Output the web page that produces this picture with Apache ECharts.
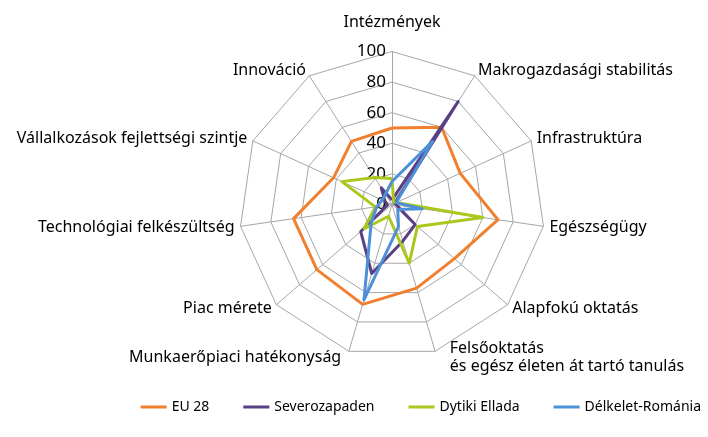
<!DOCTYPE html>
<html>
<head>
<meta charset="utf-8">
<script src="https://cdn.jsdelivr.net/npm/echarts@6/dist/echarts.min.js"></script>
<style>
html,body{margin:0;padding:0;background:#fff;}
#chart{width:708px;height:437px;}
</style>
</head>
<body>
<div id="chart"></div>
<script>
// Indicators, clockwise from the top (as in the reference)
const categories = [
  'Intézmények',
  'Makrogazdasági stabilitás',
  'Infrastruktúra',
  'Egészségügy',
  'Alapfokú oktatás',
  'Felsőoktatás\nés egész életen át tartó tanulás',
  'Munkaerőpiaci hatékonyság',
  'Piac mérete',
  'Technológiai felkészültség',
  'Vállalkozások fejlettségi szintje',
  'Innováció'
];
const seriesNames = ['EU 28', 'Severozapaden', 'Dytiki Ellada', 'Délkelet-Románia'];
const eu28      = [50, 60, 49, 70, 54, 57, 68, 65, 65, 42, 49];
const severo    = [3, 80, 2, 3, 20, 25, 47, 27, 3, 5, 13];
const dytiki    = [17, 2, 3, 60, 22, 40, 8, 24, 11, 36, 21];
const delkelet  = [15, 49, 3, 20, 5, 15, 65, 18, 10, 7, 8];
const tickLabels = ['0', '20', '40', '60', '80', '100'];
const axisMin = 0, axisMax = 100;

const colors = ['#F07F2E', '#5A3F85', '#A8C81C', '#4D90D8'];
const FONT = 'Noto Sans';
const NAME_SIZE = 16;

// ECharts places radar indicators counter-clockwise; reorder to draw clockwise
const order = [0].concat(categories.slice(1).map((_, i) => categories.length - 1 - i));
const reorder = arr => order.map(i => arr[i]);

const indicator = reorder(categories).map((name, k) => {
  const ind = { name: name, min: axisMin, max: axisMax };
  if (k === 0) {
    ind.axisLabel = {
      show: true,
      formatter: (v) => tickLabels[Math.round((v - axisMin) / ((axisMax - axisMin) / (tickLabels.length - 1)))],
      color: '#000', fontSize: 17, fontFamily: FONT, margin: 6
    };
  }
  return ind;
});

const chart = echarts.init(document.getElementById('chart'), null, { renderer: 'canvas' });
const data = [eu28, severo, dytiki, delkelet];

chart.setOption({
  animation: false,
  color: colors,
  radar: {
    center: [392, 204.5],
    radius: 153,
    startAngle: 90,
    splitNumber: tickLabels.length - 1,
    shape: 'polygon',
    nameGap: 6,
    indicator: indicator,
    axisName: {
      color: '#000',
      fontSize: NAME_SIZE,
      fontFamily: FONT,
      formatter: function (name) {
        if (name === categories[0]) return '{top|' + name + '}';
        if (name === categories[5]) return name.split('\n').map(s => '{fel|' + s + '}').join('\n');
        if (name === categories[6]) return '{mun|' + name + '}';
        return name;
      },
      rich: {
        top: { fontSize: NAME_SIZE, fontFamily: FONT, color: '#000', padding: [0, 0, 15, 0] },
        fel: { fontSize: NAME_SIZE, fontFamily: FONT, color: '#000', padding: [0, 0, 0, 13], lineHeight: 18 },
        mun: { fontSize: NAME_SIZE, fontFamily: FONT, color: '#000', padding: [0, 6, 0, 0] }
      }
    },
    axisLine: { show: true, lineStyle: { color: '#A6A6A6', width: 1 } },
    splitLine: { show: true, lineStyle: { color: '#A6A6A6', width: 1 } },
    splitArea: { show: false },
    axisTick: { show: false },
    axisLabel: { show: false }
  },
  legend: {
    data: seriesNames,
    right: 2,
    top: 395,
    itemWidth: 26,
    itemHeight: 3,
    itemGap: 34,
    icon: 'rect',
    textStyle: { color: '#000', fontSize: 14, fontFamily: FONT }
  },
  series: [{
    type: 'radar',
    symbol: 'none',
    data: seriesNames.map((n, i) => ({
      name: n,
      value: reorder(data[i]),
      lineStyle: { width: 3, color: colors[i] },
      itemStyle: { color: colors[i] }
    }))
  }]
});
</script>
</body>
</html>
